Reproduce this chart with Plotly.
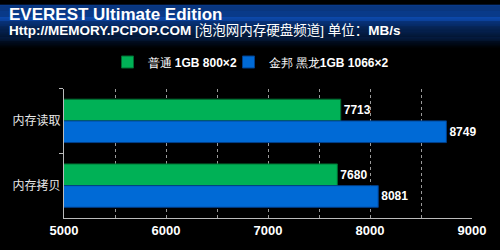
import plotly.graph_objects as go

categories = ["内存读取", "内存拷贝"]
series_names = ["普通 <b>1GB 800×2</b>", "金邦 黑龙<b>1GB 1066×2</b>"]
series_a = [7713, 7680]
series_b = [8749, 8081]
colors = ["#00b156", "#006ad6"]
edge_colors = ["#006a30", "#003f8a"]

W, H = 500, 250
ml, mr, mt, mb = 64, 28, 88, 26
ph = H - mt - mb

def py2paper(py):
    return (H - mb - py) / ph

fig = go.Figure()
for name, vals, c, ec, lg in zip(series_names, [series_a, series_b], colors, edge_colors, ["legend", "legend2"]):
    fig.add_trace(go.Bar(
        y=categories, x=vals, name=name, orientation="h", legend=lg,
        marker=dict(color=c, line=dict(color=ec, width=1)),
        text=[str(v) for v in vals], textposition="outside",
        textfont=dict(family="Liberation Sans, Arial", size=12, color="white", weight="bold"),
        cliponaxis=False,
    ))

shapes = []
top = (12, 72, 170)
for py in range(0, 50):
    if py < 13:
        col = top
    else:
        t = min(1.0, (py - 13) / 33.0)
        col = tuple(int(round(c * (1 - t))) for c in top)
    shapes.append(dict(type="rect", xref="paper", yref="paper",
                       x0=-ml / 408, x1=(W - ml) / 408,
                       y0=py2paper(py + 1), y1=py2paper(py),
                       fillcolor="rgb(%d,%d,%d)" % col, line=dict(width=0), layer="below"))

legend_style = dict(orientation="h", xref="container", yref="container",
                    y=1 - 62 / H, xanchor="left", yanchor="middle",
                    font=dict(family="Liberation Sans, Arial", size=12, color="white"),
                    bgcolor="rgba(0,0,0,0)", itemwidth=30)

fig.update_layout(
    width=W, height=H,
    margin=dict(l=ml, r=mr, t=mt, b=mb),
    paper_bgcolor="black", plot_bgcolor="black",
    barmode="group", bargap=0.33, bargroupgap=0,
    shapes=shapes,
    showlegend=True,
    legend=dict(x=0.215, **legend_style),
    legend2=dict(x=0.457, **legend_style),
    font=dict(family="Liberation Sans, Arial, Noto Sans CJK SC", color="white"),
    xaxis=dict(range=[5000, 9000], dtick=1000, tick0=5000,
               showgrid=True, gridcolor="#9a9a9a", griddash="dot", gridwidth=1,
               minor=dict(dtick=500, showgrid=True, gridcolor="#9a9a9a", griddash="dot", gridwidth=1),
               showline=True, linecolor="#bbbbbb", linewidth=1, zeroline=False,
               ticks="", tickfont=dict(size=13, color="white", weight="bold"),
               fixedrange=True),
    yaxis=dict(autorange="reversed", showline=True, linecolor="#bbbbbb", linewidth=1,
               ticks="outside", tickson="boundaries", ticklen=4, tickcolor="#bbbbbb",
               tickfont=dict(size=12, color="#e8e8e8", family="Noto Sans CJK SC"),
               showgrid=False, fixedrange=True),
    annotations=[
        dict(text="<b>EVEREST Ultimate Edition</b>", xref="paper", yref="paper",
             x=-ml / 408 + 7 / 408, y=py2paper(10), xanchor="left", yanchor="middle",
             showarrow=False, font=dict(size=17, color="white", family="Liberation Sans, Arial")),
        dict(text="<b>Http://MEMORY.PCPOP.COM</b> [泡泡网内存硬盘频道] 单位：<b>MB/s</b>",
             xref="paper", yref="paper",
             x=-ml / 408 + 7 / 408, y=py2paper(27), xanchor="left", yanchor="middle",
             showarrow=False, font=dict(size=13.5, color="white", family="Liberation Sans, Arial, Noto Sans CJK SC")),
    ],
)

fig.write_html("out.html")
